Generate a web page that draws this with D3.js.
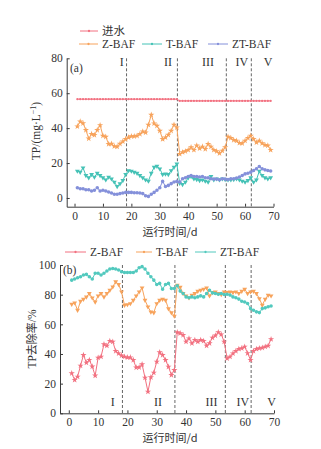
<!DOCTYPE html>
<html>
<head>
<meta charset="utf-8">
<script src="https://cdn.jsdelivr.net/npm/d3@7/dist/d3.min.js"></script>
<style>
  body { margin: 0; background: #fff; }
  svg { display: block; }
  .serif { font-family: "Liberation Serif", "DejaVu Serif", serif; }
  .cjk { font-family: "Noto Sans CJK SC", sans-serif; }
</style>
</head>
<body>
<svg id="chart" width="321" height="449"></svg>
<script>
// Operating days (x categories)
const days = d3.range(1, 70);

// Phase boundaries (day) and phase names
const phaseBounds = [18.3, 36.2, 53.4, 62.2];
const phaseNames = ["I", "II", "III", "IV", "V"];

// Axis ticks
const dayTicks = [0, 10, 20, 30, 40, 50, 60, 70];
const tpTicks = [0, 20, 40, 60, 80];
const rateTicks = [0, 20, 40, 60, 80, 100];

// (a) TP concentration, mg/L
const influentTP = [
  56.6, 56.6, 56.6, 56.6, 56.6, 56.6, 56.6, 56.6, 56.6, 56.6,
  56.6, 56.6, 56.6, 56.6, 56.6, 56.6, 56.6, 56.6, 56.6, 56.6,
  56.6, 56.6, 56.6, 56.6, 56.6, 56.6, 56.6, 56.6, 56.6, 56.6,
  56.6, 56.6, 56.6, 56.6, 56.6, 56.6,
  55.6, 55.6, 55.6, 55.6, 55.6, 55.6, 55.6, 55.6, 55.6, 55.6,
  55.6, 55.6, 55.6, 55.6, 55.6, 55.6, 55.6, 55.6, 55.6, 55.6,
  55.6, 55.6, 55.6, 55.6, 55.6, 55.6, 55.6, 55.6, 55.6, 55.6,
  55.6, 55.6, 55.6
];
const zbafTP = [
  41, 43.8, 42.8, 38.9, 34, 36.6, 36, 38.9, 41.7, 35.6,
  35, 30.9, 31, 29.6, 29.4, 31, 32.4, 33.7, 34.7, 35.3,
  35.3, 35.6, 36.6, 38.1, 37.5, 41.9, 47.6, 42.7, 41.3, 38.5,
  33.7, 34.7, 36.2, 38.5, 41.9, 40.4,
  25.2, 26.2, 26.7, 27.5, 29, 27.5, 30, 28.4, 29.4, 28,
  30.9, 29.4, 27.5, 26.7, 25.6, 27.1, 29,
  35, 34.3, 33.2, 32.8, 31.5, 31.3, 32.8, 34.3, 35.6, 33.7,
  31.8, 32.8, 31.3, 30.3, 30, 27.5
];
const tbafTP = [
  15.4, 14.8, 17.3, 12.9, 11.6, 13.5, 12, 14.2, 12.9, 11.6,
  10.4, 12, 11, 9.1, 6.6, 8.2, 10, 13.5, 15.7, 15.4,
  14.8, 14.2, 12.9, 11.6, 10.4, 9.7, 14.2, 17.6, 18.2, 16.7,
  13.5, 13.8, 13.5, 15.7, 17.6, 19.5,
  8.5, 7.8, 9.1, 11.6, 12.3, 11, 10.6, 10, 10.4, 9.7,
  9.1, 12.3, 10.4, 11, 10.4, 11, 10.6,
  10.4, 10.4, 10.6, 11, 10.4, 9.7, 9.1, 10, 11.6, 9.1,
  10.4, 15.4, 12.9, 11.6, 11, 11.6
];
const ztbafTP = [
  5.9, 5.3, 5.3, 4.7, 4.7, 4, 4.4, 5.9, 4, 4.4,
  4, 3.4, 2.8, 2.1, 2.1, 2.5, 2.8, 3.2, 3.2, 3.2,
  3, 3, 2.8, 2.5, 1.3, 0.9, 2.1, 3.2, 4.4, 5.9,
  9.5, 6.6, 7.2, 8.2, 9.1, 9.5,
  9.1, 11, 11.6, 12.3, 12.9, 12.3, 12.3, 12, 12.3, 11.6,
  11.6, 11, 10.8, 10.8, 10.4, 11, 10.8,
  10.6, 11, 11, 11.4, 12, 12.9, 13.8, 14.2, 14.8, 15.7,
  16.7, 18, 16.7, 16.1, 15.7, 15.4
];

// (b) TP removal rate, %
const zbafRemoval = [
  27, 22.5, 24.7, 32.1, 39.3, 34.1, 36, 31.5, 25.4, 37.5,
  38.2, 46.5, 45.6, 48.8, 48.3, 42, 40.4, 38.9, 38.2, 37.7,
  37.7, 35.9, 30.8, 31, 33, 24, 14.6, 24.3, 27.4, 34.8,
  41.1, 39.3, 35.9, 31.4, 25.8, 29.2,
  54.6, 53.9, 52.8, 48.3, 50.5, 47.2, 49.4, 48.3, 49.4, 48.8,
  45.6, 47.2, 51, 52.4, 54.6, 53.2, 48.3,
  37, 38.2, 40.4, 42, 43.4, 43.8, 44.9, 40.5, 36, 42,
  43.4, 43.8, 44.2, 44.9, 45.5, 50
];
const tbafRemoval = [
  73.6, 74.5, 69.5, 75.6, 77, 78.5, 80.8, 77.9, 75.1, 79.2,
  80.8, 78.5, 80.8, 83, 85.3, 88.7, 86.9, 81.9, 72.9, 73.3,
  74, 76.3, 79.2, 81.9, 84.6, 76.3, 71.8, 68.4, 67.9, 74,
  76.3, 77, 76.3, 70.6, 67.9, 65.6,
  86.5, 85, 80.8, 79.2, 77.9, 79.7, 80.8, 82.4, 83, 83.7,
  84.6, 79.2, 81.5, 81.9, 80.8, 80.1, 81.9,
  81.5, 81.9, 81.5, 81.9, 80.8, 82.4, 83.7, 80.8, 81.9, 82.4,
  80.8, 77.4, 72.9, 77, 79.7, 79.2
];
const ztbafRemoval = [
  89.8, 90.5, 91.4, 92.1, 93.2, 93.7, 92.1, 90.5, 94.4, 94.4,
  93.2, 94.4, 96, 97.3, 97.7, 97.3, 96.6, 95.5, 95, 95,
  95, 95, 96, 98.2, 98.9, 97.3, 94.4, 92.1, 89.8, 86.9,
  87.6, 83.7, 86.9, 87.6, 84.2, 84.2,
  86, 82.4, 80.8, 78.5, 77.9, 78.5, 77.9, 78.5, 79.2, 78.5,
  80.8, 83, 81.2, 80.8, 80.3, 80.8, 80.1,
  80.3, 79.7, 78.5, 77.9, 77, 75.6, 75.1, 74, 70.6, 69.5,
  68.4, 67.9, 70.6, 71.1, 71.8, 72.4
];

// Colours
const RED = "#f27180", ORANGE = "#f7a35c", TEAL = "#45c2b6", TEAL_B = "#52c9be", BLUE = "#8490da";
const AXIS = "#3a3a3a";

const svg = d3.select("#chart");

const symbolFor = { star: d3.symbolStar, tri: d3.symbolTriangle, circle: d3.symbolCircle, dot: d3.symbolCircle };
const symbolSize = { star: 12, tri: 10, circle: 10, dot: 4 };

function drawSeries(g, x, y, values, color, shape) {
  const pts = days.map((d, i) => [d, values[i]]);
  g.append("path")
    .datum(pts)
    .attr("fill", "none")
    .attr("stroke", color)
    .attr("stroke-width", 1)
    .attr("d", d3.line().x(d => x(d[0])).y(d => y(d[1])));
  const sym = d3.symbol().type(symbolFor[shape]).size(symbolSize[shape]);
  g.selectAll(null)
    .data(pts)
    .join("path")
    .attr("d", sym)
    .attr("fill", color)
    .attr("transform", d => `translate(${x(d[0])},${y(d[1])})` + (shape === "tri" ? " rotate(180)" : ""));
}

function legendItem(g, x0, x1, yPos, color, shape, label, cls) {
  g.append("line").attr("x1", x0).attr("x2", x1).attr("y1", yPos).attr("y2", yPos)
    .attr("stroke", color).attr("stroke-width", 1);
  g.append("path")
    .attr("d", d3.symbol().type(symbolFor[shape]).size(symbolSize[shape])())
    .attr("fill", color)
    .attr("transform", `translate(${(x0 + x1) / 2},${yPos})` + (shape === "tri" ? " rotate(180)" : ""));
  g.append("text").attr("class", cls).attr("x", x1 + 4).attr("y", yPos + 4)
    .attr("font-size", 11.5).attr("fill", "#333").text(label);
}

function styleAxis(g) {
  g.selectAll("path.domain").attr("stroke", AXIS);
  g.selectAll(".tick line").attr("stroke", AXIS);
  g.selectAll(".tick text")
    .attr("font-family", "Liberation Serif, DejaVu Serif, serif")
    .attr("font-size", 11.5)
    .attr("fill", "#333");
}

function drawPanel(opts) {
  const { x, y, yTicks, tag, tagPos, phaseLabelDays, phaseLabelY, series, legend, yTitle, yTitlePos, xTitleY } = opts;
  const g = svg.append("g");
  const [y0, y1] = y.range();

  // phase boundaries
  g.selectAll(null).data(phaseBounds).join("line")
    .attr("x1", d => x(d)).attr("x2", d => x(d))
    .attr("y1", y1).attr("y2", y0)
    .attr("stroke", "#555").attr("stroke-width", 0.9)
    .attr("stroke-dasharray", "3,2");

  // axes
  const ax = g.append("g").attr("transform", `translate(0,${y0})`)
    .call(d3.axisBottom(x).tickValues(dayTicks).tickSize(-3).tickSizeOuter(0).tickPadding(5));
  styleAxis(ax);
  const ay = g.append("g").attr("transform", `translate(${x.range()[0]},0)`)
    .call(d3.axisLeft(y).tickValues(yTicks).tickSize(-3).tickSizeOuter(0).tickPadding(4));
  styleAxis(ay);

  // series
  series.forEach(s => drawSeries(g, x, y, s.values, s.color, s.shape));

  // phase names
  g.selectAll(null).data(phaseNames).join("text")
    .attr("class", "serif")
    .attr("x", (d, i) => x(phaseLabelDays[i]))
    .attr("y", phaseLabelY)
    .attr("text-anchor", "middle")
    .attr("font-size", 12)
    .attr("fill", "#333")
    .text(d => d);

  // panel tag
  g.append("text").attr("class", "serif").attr("x", tagPos[0]).attr("y", tagPos[1])
    .attr("font-size", 11.5).attr("fill", "#333").text(tag);

  // legend
  legend.forEach(l => legendItem(g, l.x0, l.x1, l.y, l.color, l.shape, l.label, l.cls));

  // axis titles
  const yt = g.append("text")
    .attr("transform", `translate(${yTitlePos[0]},${yTitlePos[1]}) rotate(-90)`)
    .attr("text-anchor", "middle").attr("font-size", 11.5).attr("fill", "#333");
  yTitle(yt);

  g.append("text").attr("class", "cjk").attr("x", 170).attr("y", xTitleY)
    .attr("text-anchor", "middle").attr("font-size", 11).attr("fill", "#333")
    .text("运行时间/d");
}

// Panel (a)
const xA = d3.scaleLinear().domain([-2.75, 70]).range([66.7, 273.5]);
const yA = d3.scaleLinear().domain([-5, 80]).range([206.7, 58.3]);
drawPanel({
  x: xA, y: yA, yTicks: tpTicks, tag: "(a)", tagPos: [70, 72],
  phaseLabelDays: [16.6, 32.9, 47, 58.9, 68.1], phaseLabelY: 66,
  series: [
    { values: influentTP, color: RED, shape: "dot" },
    { values: zbafTP, color: ORANGE, shape: "star" },
    { values: tbafTP, color: TEAL, shape: "tri" },
    { values: ztbafTP, color: BLUE, shape: "circle" }
  ],
  legend: [
    { x0: 80, x1: 98, y: 31, color: RED, shape: "dot", label: "进水", cls: "cjk" },
    { x0: 79, x1: 98, y: 44, color: ORANGE, shape: "dot", label: "Z-BAF", cls: "serif" },
    { x0: 142, x1: 162, y: 44, color: TEAL, shape: "dot", label: "T-BAF", cls: "serif" },
    { x0: 208, x1: 228, y: 44, color: BLUE, shape: "dot", label: "ZT-BAF", cls: "serif" }
  ],
  yTitle: t => {
    t.attr("class", "serif");
    t.append("tspan").text("TP/(mg·L");
    t.append("tspan").attr("dy", -4).attr("font-size", 8).text("−1");
    t.append("tspan").attr("dy", 4).text(")");
  },
  yTitlePos: [40, 131],
  xTitleY: 236
});

// Panel (b)
const xB = d3.scaleLinear().domain([-3, 70]).range([60, 274]);
const yB = d3.scaleLinear().domain([0, 100]).range([413.3, 265]);
drawPanel({
  x: xB, y: yB, yTicks: rateTicks, tag: "(b)", tagPos: [63, 274],
  phaseLabelDays: [15, 30.4, 48.7, 59.4, 69.2], phaseLabelY: 406,
  series: [
    { values: zbafRemoval, color: RED, shape: "star" },
    { values: tbafRemoval, color: ORANGE, shape: "tri" },
    { values: ztbafRemoval, color: TEAL_B, shape: "circle" }
  ],
  legend: [
    { x0: 65, x1: 86, y: 252, color: RED, shape: "dot", label: "Z-BAF", cls: "serif" },
    { x0: 136, x1: 152, y: 252, color: ORANGE, shape: "dot", label: "T-BAF", cls: "serif" },
    { x0: 195, x1: 216, y: 252, color: TEAL_B, shape: "dot", label: "ZT-BAF", cls: "serif" }
  ],
  yTitle: t => {
    t.append("tspan").attr("class", "serif").text("TP");
    t.append("tspan").attr("class", "cjk").attr("font-size", 11).text("去除率");
    t.append("tspan").attr("class", "serif").text("/%");
  },
  yTitlePos: [36, 339],
  xTitleY: 442
});
</script>
</body>
</html>
